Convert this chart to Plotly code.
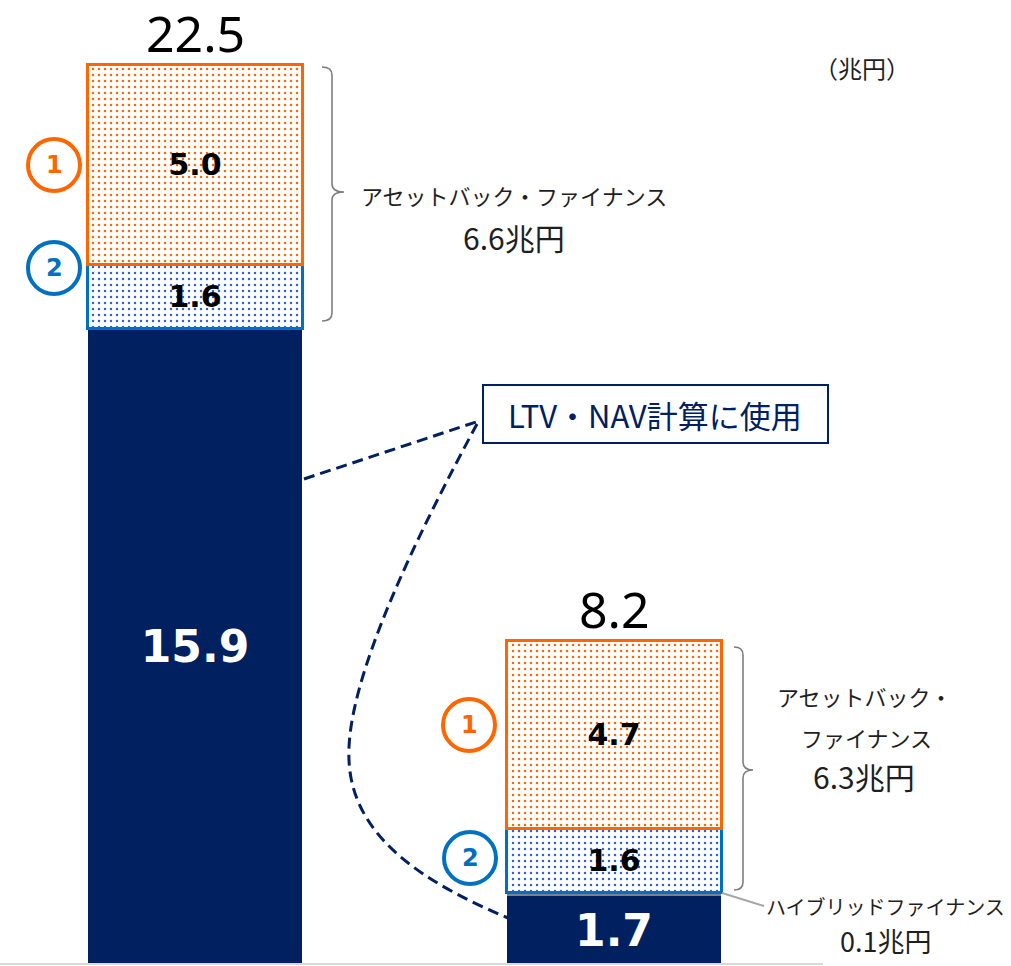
import plotly.graph_objects as go

# ---- data (兆円) ----
categories = ["合計", "LTV・NAV"]
core_values = [15.9, 1.7]          # LTV・NAV計算に使用
hybrid_values = [0.0, 0.1]         # ハイブリッドファイナンス
abf2_values = [1.6, 1.6]           # ② アセットバック・ファイナンス
abf1_values = [5.0, 4.7]           # ① アセットバック・ファイナンス
total_labels = ["22.5", "8.2"]
abf_totals = ["6.6", "6.3"]

W, H = 1011, 966
NAVY = "#002060"
ORANGE = "#FF6600"
BLUE = "#0070C0"
BLUE_DOT = "#2E62D6"
GRAY = "#808080"
TXT = "#1F1F1F"
JP = "Noto Sans CJK JP"
NUM = "DejaVu Sans"

xpos = list(range(len(categories)))
XR = (-0.4654, 1.9475)
YR = (-0.05, 24.1)
BAR_W = 0.511


def px(x, y):
    """pixel position -> paper coordinates"""
    return x / W, 1 - y / H


def path(*cmds):
    out = []
    for c in cmds:
        if isinstance(c, str):
            out.append(c)
        else:
            a, b = px(*c)
            out.append(f"{a:.5f},{b:.5f}")
    return " ".join(out)


fig = go.Figure()

dot = dict(shape=".", bgcolor="white", size=6, solidity=0.14, fillmode="replace")

fig.add_bar(
    x=xpos, y=core_values, width=BAR_W,
    marker=dict(color=NAVY, line=dict(width=0)),
    text=[f"{v:.1f}" for v in core_values],
    textposition="inside", insidetextanchor="middle", textangle=0,
    textfont=dict(family=NUM, size=44, color="white", weight="bold"),
)
fig.add_bar(
    x=xpos, y=hybrid_values, width=BAR_W,
    marker=dict(color=GRAY, line=dict(width=0)),
    text=["", ""], textposition="none",
)
fig.add_bar(
    x=xpos, y=abf2_values, width=BAR_W,
    marker=dict(color="white", line=dict(color=BLUE, width=3),
                pattern=dict(dot, fgcolor=BLUE_DOT)),
    text=[f"{v:.1f}" for v in abf2_values],
    textposition="inside", insidetextanchor="middle", textangle=0,
    textfont=dict(family=NUM, size=30, color="black", weight="bold"),
)
fig.add_bar(
    x=xpos, y=abf1_values, width=BAR_W,
    marker=dict(color="white", line=dict(color=ORANGE, width=3),
                pattern=dict(dot, fgcolor=ORANGE)),
    text=[f"{v:.1f}" for v in abf1_values],
    textposition="inside", insidetextanchor="middle", textangle=0,
    textfont=dict(family=NUM, size=30, color="black", weight="bold"),
)

annotations = []
shapes = []

# totals above each stack
for i in xpos:
    top = core_values[i] + hybrid_values[i] + abf2_values[i] + abf1_values[i]
    annotations.append(dict(
        x=i, y=top, xref="x", yref="y", text=total_labels[i],
        showarrow=False, xanchor="center", yanchor="bottom", yshift=-5,
        font=dict(family="Noto Sans", size=50, color="black")))


def label(x, y, text, font):
    ax, ay = px(x, y)
    annotations.append(dict(x=ax, y=ay, xref="paper", yref="paper", text=text,
                            showarrow=False, xanchor="center", yanchor="middle",
                            font=font))


def jp_text(x, y, text, size, color=TXT):
    label(x, y, text, dict(family=JP, size=size, color=color))


# unit
jp_text(862, 67, "（兆円）", 24)

# circled markers ① ②
circles = [(54, 165, "1", ORANGE), (54, 268, "2", BLUE),
           (469, 725, "1", ORANGE), (470, 858, "2", BLUE)]
R = 26
for cx, cy, lab, col in circles:
    x0, y1 = px(cx - R, cy - R)
    x1, y0 = px(cx + R, cy + R)
    shapes.append(dict(type="circle", xref="paper", yref="paper",
                       x0=x0, x1=x1, y0=y0, y1=y1,
                       line=dict(color=col, width=4), fillcolor="white"))
    label(cx, cy, lab, dict(family=NUM, size=24, color=col, weight="bold"))


def brace(x0, xv, xt, ytop, ybot, ymid, r=8):
    return path("M", (x0, ytop), "Q", (xv, ytop), (xv, ytop + r),
                "L", (xv, ymid - r), "Q", (xv, ymid), (xt, ymid),
                "Q", (xv, ymid), (xv, ymid + r),
                "L", (xv, ybot - r), "Q", (xv, ybot), (x0, ybot))


shapes.append(dict(type="path", xref="paper", yref="paper",
                   path=brace(322, 332, 344, 67, 321, 192),
                   line=dict(color="#7F7F7F", width=1.6)))
shapes.append(dict(type="path", xref="paper", yref="paper",
                   path=brace(734, 743, 753, 647, 890, 770),
                   line=dict(color="#7F7F7F", width=1.6)))

# brace captions
jp_text(514, 195, "アセットバック・ファイナンス", 22)
jp_text(514, 237, f"{abf_totals[0]}兆円", 30)
jp_text(864, 696, "アセットバック・", 22)
jp_text(866, 737, "ファイナンス", 22)
jp_text(864, 776, f"{abf_totals[1]}兆円", 30)
jp_text(885, 906, "ハイブリッドファイナンス", 20)
jp_text(885, 940, f"{hybrid_values[1]:.1f}兆円", 27)

# leader for hybrid finance
shapes.append(dict(type="path", xref="paper", yref="paper",
                   path=path("M", (722, 893), "L", (764, 906)),
                   line=dict(color="#A6A6A6", width=2)))

# LTV・NAV box and dashed connectors
shapes.append(dict(type="path", xref="paper", yref="paper",
                   path=path("M", (304, 479), "L", (476, 422)),
                   line=dict(color=NAVY, width=3, dash="11px,6px")))
shapes.append(dict(type="path", xref="paper", yref="paper",
                   path=path("M", (477, 424), "C", (420, 530), (345, 680), (349, 760),
                             "C", (352, 840), (430, 885), (508, 918)),
                   line=dict(color=NAVY, width=3, dash="11px,6px")))
bx0, by1 = px(483, 385)
bx1, by0 = px(828, 443)
shapes.append(dict(type="rect", xref="paper", yref="paper",
                   x0=bx0, x1=bx1, y0=by0, y1=by1,
                   line=dict(color=NAVY, width=2), fillcolor="white"))
jp_text(655, 414, "LTV・NAV計算に使用", 31, NAVY)

# baseline
bl0, bly = px(0, 964)
bl1, _ = px(823, 964)
shapes.append(dict(type="line", xref="paper", yref="paper",
                   x0=bl0, x1=bl1, y0=bly, y1=bly,
                   line=dict(color="#D9D9D9", width=2)))

fig.update_layout(
    width=W, height=H, margin=dict(l=0, r=0, t=0, b=0),
    barmode="stack", showlegend=False,
    paper_bgcolor="white", plot_bgcolor="white",
    xaxis=dict(visible=False, range=list(XR), fixedrange=True),
    yaxis=dict(visible=False, range=list(YR), fixedrange=True),
    shapes=shapes, annotations=annotations,
)

fig.write_html("out.html")
